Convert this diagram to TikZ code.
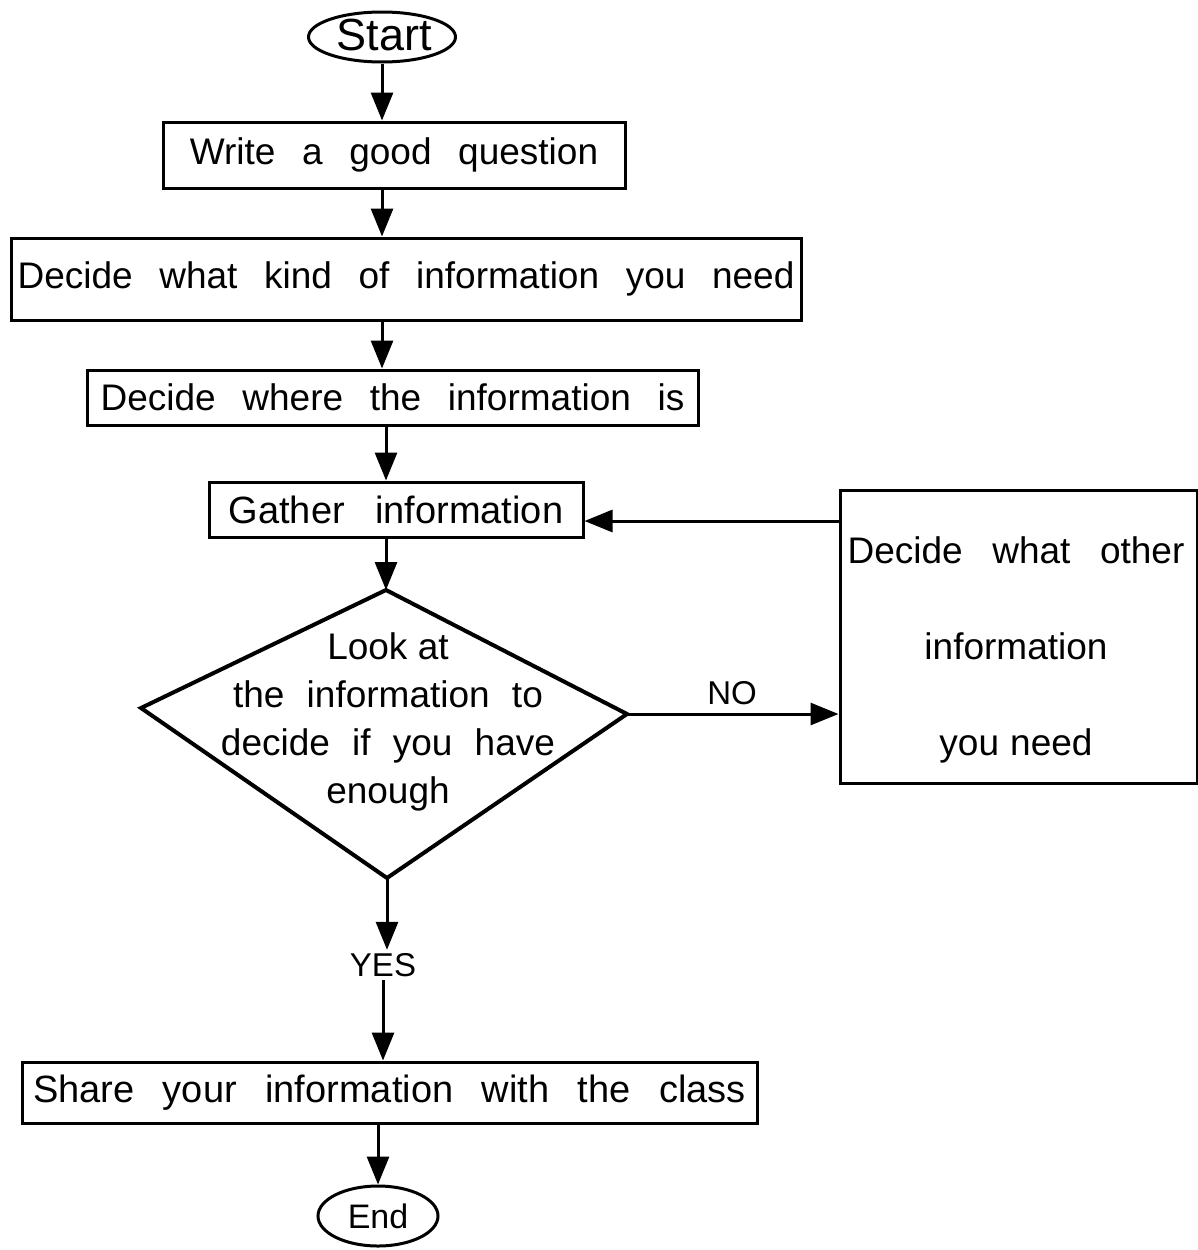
\documentclass[tikz,border=0pt]{standalone}
\usepackage{fontspec}
\setmainfont{Liberation Sans}
\usetikzlibrary{arrows.meta,shapes.geometric}
% wide word spacing used in the process boxes
\newcommand\widesp[1]{\spaceskip=#1em\relax}
\begin{document}
\begin{tikzpicture}[x=1pt,y=-1pt,
  every node/.style={font=\fontsize{37}{44}\selectfont\widesp{0.72}},
  stepbox/.style={draw,line width=3pt,inner sep=0pt},
  terminal/.style={draw,ellipse,line width=3pt,inner sep=0pt},
  arr/.style={line width=3pt,-{Triangle[width=22pt,length=28pt]}}]
\useasboundingbox (0,0) rectangle (1198,1250);

% terminals and process boxes
\node[terminal,minimum width=147,minimum height=50] (start) at (382,37) {};
\node[font=\fontsize{45}{50}\selectfont] (starttxt) at (384,35) {Start};
\node[stepbox,minimum width=462,minimum height=66] (write) at (394,155) {Write a good question};
\node[stepbox,minimum width=790,minimum height=82] (kind) at (406,279) {Decide what kind of information you need};
\node[stepbox,minimum width=611,minimum height=55] (where) at (392.5,397.5) {Decide where the information is};
\node[stepbox,minimum width=374,minimum height=55,font=\fontsize{38}{44}\selectfont\widesp{0.8}] (gather) at (396,509.5) {Gather information};

% decision
\coordinate (dT) at (386,590);
\coordinate (dR) at (627,714);
\coordinate (dB) at (387,878);
\coordinate (dL) at (141,708);
\draw[line width=4pt,line join=miter] (dT) -- (dR) -- (dB) -- (dL) -- cycle;
\node[align=center,font=\fontsize{37}{48}\selectfont\widesp{0.6}] (look) at (388,722)
  {{\widesp{0.28}Look at}\\the information to\\decide if you have\\enough};

% loop-back box
\node[stepbox,minimum width=357,minimum height=293] (other) at (1018.5,636.5) {};
\node[align=center,font=\fontsize{37}{96}\selectfont\widesp{0.8}] (othertxt) at (1016,650)
  {Decide what other\\information\\{\widesp{0.3}you need}};

\node[font=\fontsize{33}{40}\selectfont] (yes) at (383,965) {YES};
\node[font=\fontsize{33}{40}\selectfont] (no) at (732,693) {NO};

\node[stepbox,minimum width=735,minimum height=61,font=\fontsize{38}{44}\selectfont\widesp{0.75}] (share) at (389.5,1092.5) {Share your information with the class};
\node[terminal,minimum width=120,minimum height=60] (end) at (378,1216) {};
\node[font=\fontsize{34}{40}\selectfont] (endtxt) at (378,1216) {End};

% connectors
\draw[arr] (start.south) -- (start.south |- write.north);
\draw[arr] (start.south |- write.south) -- (start.south |- kind.north);
\draw[arr] (start.south |- kind.south) -- (start.south |- where.north);
\draw[arr] (dT |- where.south) -- (dT |- gather.north);
\draw[arr] (dT |- gather.south) -- (dT);
\draw[arr] (dB) -- (yes.north -| dB);
\draw[arr] (yes.south) -- (yes.south |- share.north);
\draw[arr] (end.north |- share.south) -- (end.north);
\draw[arr] (dR) -- (dR -| other.west);
\draw[arr] (other.west |- 0,521) -- (gather.east |- 0,521);
\end{tikzpicture}
\end{document}
